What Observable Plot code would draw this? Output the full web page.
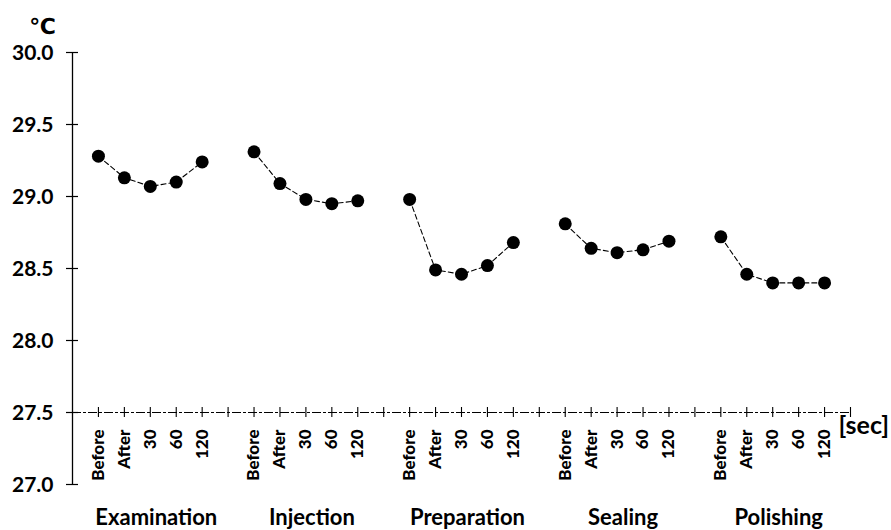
<!DOCTYPE html>
<html>
<head>
<meta charset="utf-8">
<script src="https://cdn.jsdelivr.net/npm/d3@7"></script>
<script src="https://cdn.jsdelivr.net/npm/@observablehq/plot@0.6"></script>
<style>
  html, body { margin: 0; padding: 0; background: #fff; }
</style>
</head>
<body>
<div id="chart"></div>
<script>
// ---- data ----
const groups = ["Examination", "Injection", "Preparation", "Sealing", "Polishing"];
const timepoints = ["Before", "After", "30", "60", "120"];
const examination = [29.28, 29.13, 29.07, 29.10, 29.24];
const injection   = [29.31, 29.09, 28.98, 28.95, 28.97];
const preparation = [28.98, 28.49, 28.46, 28.52, 28.68];
const sealing     = [28.81, 28.64, 28.61, 28.63, 28.69];
const polishing   = [28.72, 28.46, 28.40, 28.40, 28.40];
const yTicks = [27.0, 27.5, 28.0, 28.5, 29.0, 29.5, 30.0];
const unitLabel = "℃";
const xUnitLabel = "[sec]";
const baseline = 27.5;

// ---- build table ----
const series = [examination, injection, preparation, sealing, polishing];
const slotsPerGroup = timepoints.length + 1;
const data = [];
series.forEach((vals, g) => vals.forEach((v, t) => data.push({
  group: groups[g], time: timepoints[t], slot: g * slotsPerGroup + t + 1, value: v
})));
const nSlots = groups.length * slotsPerGroup;
const xTicks = d3.range(1, nSlots + 1);
const groupLabels = groups.map((name, g) => ({name, slot: g * slotsPerGroup + (timepoints.length + 1) / 2}));

const font = "Lato, 'Open Sans', sans-serif";

const chart = Plot.plot({
  width: 891,
  height: 530,
  marginLeft: 72,
  marginRight: 41,
  marginTop: 52,
  marginBottom: 46,
  style: {fontFamily: font, background: "#fff", color: "#000", overflow: "visible"},
  x: {domain: [0, nSlots], axis: null},
  y: {domain: [27, 30], axis: null},
  marks: [
    // y axis line and crossing ticks
    Plot.ruleX([0], {y1: yTicks[0], y2: yTicks[yTicks.length - 1], stroke: "#000", strokeWidth: 1.3}),
    Plot.ruleY(yTicks, {x1: 0, x2: 0, insetLeft: -6, insetRight: -6, stroke: "#000", strokeWidth: 1.2}),
    Plot.text(yTicks, {x: 0, y: d => d, text: d => d.toFixed(1), textAnchor: "end", dx: -19, dy: 1,
      fontSize: 21, fontWeight: "bold", fill: "#000"}),
    // x axis line at 27.5 with crossing ticks
    Plot.ruleY([baseline], {x1: 0, x2: nSlots, stroke: "#000", strokeWidth: 1.1, strokeDasharray: "9,2,3,2"}),
    Plot.ruleX(xTicks, {x: d => d, y1: baseline, y2: baseline, insetTop: -5, insetBottom: -5, stroke: "#000", strokeWidth: 1.1}),
    // rotated time labels
    Plot.text(data, {x: "slot", y: () => baseline, text: "time", rotate: -90, textAnchor: "end", dy: 17,
      fontSize: 17, fontWeight: 900, fill: "#000"}),
    // group labels
    Plot.text(groupLabels, {x: "slot", y: () => 27, text: "name", lineAnchor: "bottom", dy: 40, dx: 6,
      fontSize: 22, fontWeight: "bold", fill: "#000"}),
    // unit labels
    Plot.text([unitLabel], {x: () => 0, y: () => 30, text: d => d, textAnchor: "middle", lineAnchor: "bottom",
      dx: -30, dy: -19, fontSize: 22, fontWeight: "bold", fill: "#000", fontFamily: "'DejaVu Sans', sans-serif"}),
    Plot.text([xUnitLabel], {x: () => nSlots, y: () => baseline, text: d => d, textAnchor: "start",
      dx: -12, dy: 13, fontSize: 25, fontWeight: "bold", fill: "#000"}),
    // data
    Plot.line(data, {x: "slot", y: "value", z: "group", stroke: "#000", strokeWidth: 1.1, strokeDasharray: "5,3"}),
    Plot.dot(data, {x: "slot", y: "value", r: 6.5, fill: "#000", stroke: "none"})
  ]
});
document.getElementById("chart").appendChild(chart);
</script>
</body>
</html>
